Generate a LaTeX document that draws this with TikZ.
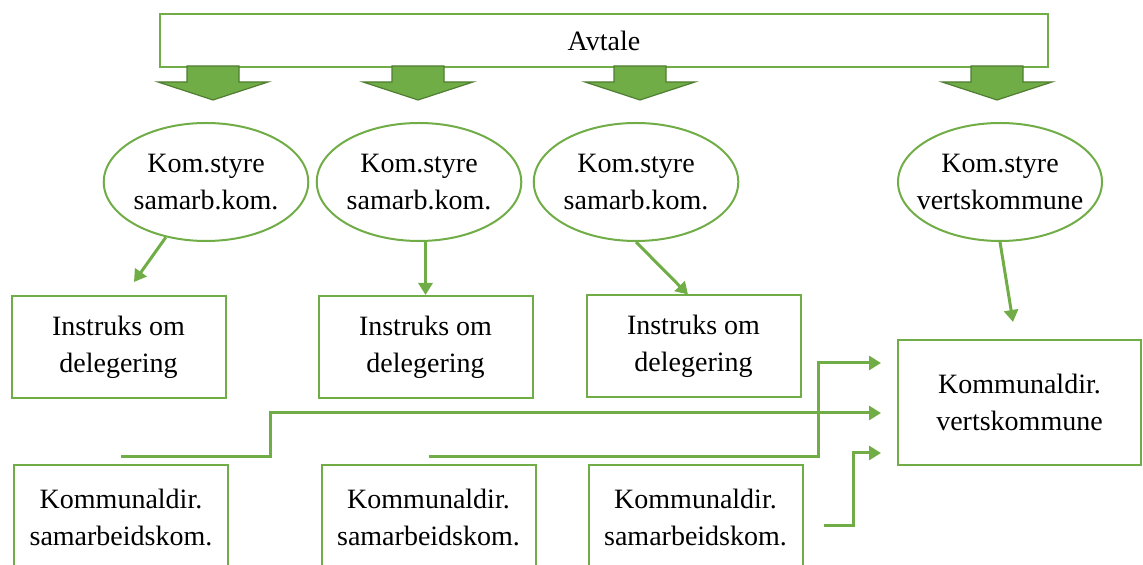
\documentclass[tikz,border=0pt]{standalone}
\usepackage{fontspec}
\setmainfont{Liberation Serif}
\usetikzlibrary{arrows.meta,shapes.geometric}

\definecolor{leaf}{HTML}{70AD47}
\definecolor{leafdark}{HTML}{507E32}

\tikzset{
  txt/.style={font=\fontsize{14}{18.5}\selectfont, align=center, inner sep=0pt},
  box/.style={txt, draw=leaf, line width=1pt, minimum width=107pt, minimum height=51pt},
  board/.style={txt, ellipse, draw=leaf, line width=1pt, minimum width=102pt, minimum height=59pt},
  link/.style={draw=leaf, line width=1.5pt, -{Triangle[length=6pt,width=7pt]}},
  bigarrow/.style={fill=leaf, draw=leafdark, line width=0.6pt, line join=miter}
}

\begin{document}
\begin{tikzpicture}[x=0.5pt, y=-0.5pt]
 \useasboundingbox (0,0) rectangle (1143,565);

 % agreement on top
 \node[box, minimum width=444pt, minimum height=26.5pt] (avtale) at (604,40.5) {Avtale};
 \foreach \x in {213,418,640,997}
   \draw[bigarrow] (\x-26,66) -- (\x+26,66) -- (\x+26,82) -- (\x+55,82)
     -- (\x,100) -- (\x-55,82) -- (\x-26,82) -- cycle;

 % councils
 \node[board] (k1) at (206,182) {Kom.styre\\samarb.kom.};
 \node[board] (k2) at (419,182) {Kom.styre\\samarb.kom.};
 \node[board] (k3) at (636,182) {Kom.styre\\samarb.kom.};
 \node[board, inner xsep=-7.5pt] (k4) at (1000,182) {Kom.styre\\vertskommune};

 % instructions
 \node[box] (i1) at (118.5,347) {Instruks om\\delegering};
 \node[box] (i2) at (425.5,347) {Instruks om\\delegering};
 \node[box] (i3) at (693.5,346.5) {Instruks om\\delegering};

 % administration
 \node[box, minimum width=121.5pt, minimum height=62.5pt] (vk) at (1019.5,402.5) {Kommunaldir.\\vertskommune};
 \node[box, minimum height=52.5pt] (s1) at (121,517.5) {Kommunaldir.\\samarbeidskom.};
 \node[box, minimum height=52.5pt] (s2) at (428.5,517.5) {Kommunaldir.\\samarbeidskom.};
 \node[box, minimum height=52.5pt] (s3) at (695.5,517.5) {Kommunaldir.\\samarbeidskom.};

 \coordinate (t1) at ([xshift=7.75pt,yshift=6.5pt]i1.north);
 \coordinate (t3) at ([xshift=-2.75pt]i3.north);
 \coordinate (t4) at ([xshift=-3.25pt,yshift=8.5pt]vk.north);
 \coordinate (e1) at ([xshift=-8pt,yshift=-5.25pt]vk.west);
 \coordinate (e2) at ([xshift=-8pt,yshift=19.75pt]vk.west);
 \coordinate (e3) at ([xshift=-8pt,yshift=-25.25pt]vk.west);

 \draw[link] (k1.234) -- (t1);
 \draw[link] (i2.north |- k2.south) -- (i2.north);
 \draw[link] (k3.south) -- (t3);
 \draw[link] (k4.south) -- (t4);

 \draw[link] ([yshift=3.5pt]s1.north) -- ++(149,0) |- (e1);
 \draw[link] ([yshift=3.5pt]s2.north) -- ++(390,0) |- (e2);
 \draw[link] ([xshift=10pt,yshift=-3.75pt]s3.east) -- ++(30,0) |- (e3);
\end{tikzpicture}
\end{document}
